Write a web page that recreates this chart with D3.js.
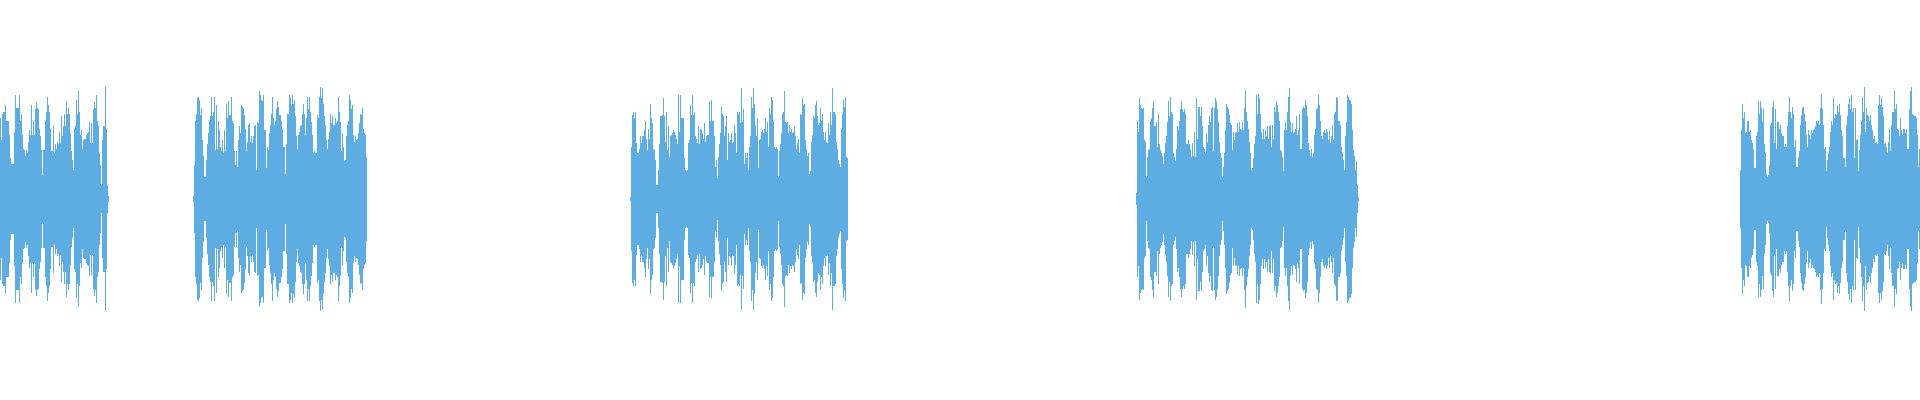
<!DOCTYPE html>
<html>
<head>
<meta charset="utf-8">
<script src="https://cdn.jsdelivr.net/npm/d3@7"></script>
<style>
  html, body { margin: 0; padding: 0; background: #fff; }
  #container { width: 1920px; height: 400px; }
</style>
</head>
<body>
<div id="container"></div>
<script>
// timeline (seconds) and peak resolution
var totalDuration = 48
var binSec = 0.025

// start time of each sound region
var segStarts = [0, 4.825, 15.75, 28.4, 43.5]

// peak amplitude (0..1) per bin, one list per region
var peaks1 = [.58,.42,.61,.62,.62,.67,.56,.56,.56,.46,.29,.25,.25,.25,.48,.74,.65,.65,.65,.74,.56,.61,.46,.36,.35,.31,.35,.33,.41,.49,
  .46,.67,.46,.56,.46,.64,.69,.65,.64,.50,.45,.35,.17,.35,.35,.56,.62,.73,.67,.62,.50,.34,.34,.53,.33,.39,.36,.41,.39,.48,
  .40,.59,.45,.52,.61,.52,.70,.61,.65,.61,.47,.34,.28,.21,.50,.52,.71,.61,.77,.62,.46,.49,.36,.42,.43,.43,.46,.47,.48,.55,
  .40,.54,.40,.64,.69,.65,.74,.56,.52,.33,.24,.10,.42,.52,.52,.80,.50,.10,.02]

var peaks2 = [.02,.24,.56,.61,.72,.73,.71,.60,.65,.42,.31,.16,.16,.28,.39,.47,.56,.59,.73,.59,.62,.73,.35,.67,.36,.56,.49,.37,.34,.42,
  .33,.49,.34,.68,.58,.70,.60,.60,.73,.56,.54,.34,.24,.34,.23,.42,.52,.47,.67,.66,.65,.60,.50,.34,.41,.53,.54,.41,.45,.40,
  .45,.52,.53,.21,.55,.54,.77,.74,.71,.70,.74,.49,.49,.22,.37,.35,.47,.53,.61,.73,.58,.53,.56,.64,.70,.66,.60,.60,.56,.50,
  .37,.37,.18,.39,.61,.61,.74,.72,.67,.74,.68,.71,.59,.45,.36,.46,.48,.52,.53,.61,.68,.61,.46,.58,.73,.64,.73,.62,.55,.46,
  .33,.34,.33,.33,.60,.58,.73,.80,.72,.79,.68,.59,.53,.42,.36,.43,.48,.61,.54,.59,.53,.53,.58,.54,.56,.73,.62,.55,.34,.47,
  .37,.27,.28,.45,.53,.56,.74,.71,.64,.67,.46,.41,.45,.42,.43,.47,.54,.61,.60,.65,.50,.47,.46,.30]

var peaks3 = [.01,.37,.60,.62,.58,.62,.40,.33,.33,.36,.45,.40,.45,.45,.49,.56,.43,.35,.50,.43,.68,.58,.54,.36,.35,.28,.10,.10,.21,.39,
  .59,.59,.60,.72,.59,.41,.62,.35,.52,.30,.45,.46,.47,.49,.48,.46,.43,.39,.74,.48,.74,.58,.58,.58,.29,.21,.20,.21,.40,.42,
  .67,.60,.74,.60,.62,.45,.43,.40,.52,.39,.50,.49,.47,.43,.54,.41,.45,.46,.46,.70,.56,.71,.56,.56,.45,.23,.28,.15,.30,.39,
  .47,.66,.61,.59,.45,.52,.59,.28,.47,.41,.42,.47,.40,.41,.53,.47,.33,.62,.61,.62,.54,.79,.55,.64,.25,.33,.29,.33,.21,.37,
  .45,.73,.65,.79,.68,.53,.45,.58,.22,.42,.43,.48,.49,.47,.50,.58,.48,.55,.37,.65,.61,.73,.71,.56,.37,.36,.37,.36,.16,.34,
  .39,.47,.61,.62,.77,.55,.54,.55,.47,.53,.48,.50,.47,.48,.52,.45,.36,.40,.43,.33,.61,.60,.72,.67,.68,.42,.36,.31,.33,.18,
  .20,.41,.46,.59,.58,.67,.70,.59,.53,.54,.65,.56,.61,.48,.42,.48,.41,.40,.54,.46,.62,.53,.79,.62,.62,.61,.41,.36,.28,.25,
  .23,.50,.61,.71,.66,.73,.30,.29]

var peaks4 = [.04,.56,.48,.72,.67,.65,.64,.65,.42,.41,.16,.30,.35,.36,.56,.58,.65,.70,.52,.52,.55,.37,.61,.39,.35,.33,.31,.25,.33,.40,
  .45,.55,.70,.59,.73,.62,.61,.33,.30,.27,.36,.52,.49,.56,.64,.70,.64,.62,.64,.61,.39,.39,.42,.39,.36,.30,.40,.31,.48,.30,
  .72,.43,.66,.66,.59,.66,.52,.37,.36,.33,.47,.41,.53,.59,.55,.65,.66,.34,.65,.72,.70,.64,.55,.41,.33,.29,.16,.23,.33,.49,
  .68,.66,.64,.60,.54,.53,.35,.48,.42,.47,.48,.54,.48,.55,.50,.49,.55,.49,.65,.78,.62,.56,.50,.41,.33,.21,.22,.29,.39,.45,
  .74,.61,.75,.72,.61,.48,.43,.50,.43,.49,.45,.52,.43,.52,.53,.37,.53,.43,.66,.62,.70,.67,.62,.56,.35,.34,.30,.20,.49,.55,
  .49,.62,.73,.79,.55,.48,.54,.47,.48,.50,.59,.46,.49,.61,.36,.36,.64,.66,.65,.71,.67,.59,.40,.35,.31,.36,.30,.33,.46,.50,
  .64,.65,.74,.67,.56,.45,.43,.48,.49,.47,.50,.48,.42,.49,.40,.45,.53,.42,.61,.62,.73,.72,.56,.56,.53,.37,.33,.28,.21,.45,
  .55,.74,.73,.71,.71,.68,.49,.35,.31,.21,.27,.10,.01]

var peaks5 = [.21,.49,.68,.58,.62,.47,.48,.56,.56,.48,.49,.42,.40,.36,.22,.22,.45,.48,.70,.61,.70,.65,.55,.64,.39,.33,.18,.16,.17,.24,
  .53,.54,.66,.70,.40,.64,.36,.55,.55,.50,.53,.47,.45,.45,.37,.39,.37,.52,.62,.73,.62,.58,.66,.61,.37,.42,.23,.23,.30,.34,
  .53,.60,.65,.66,.61,.56,.46,.37,.49,.46,.43,.49,.47,.49,.50,.52,.56,.54,.56,.53,.65,.75,.64,.53,.36,.37,.20,.28,.33,.37,
  .48,.56,.53,.72,.58,.61,.60,.67,.62,.68,.60,.49,.45,.29,.29,.23,.53,.59,.68,.72,.64,.74,.62,.65,.29,.65,.42,.43,.20,.35,
  .46,.56,.73,.62,.80,.48,.65,.60,.59,.56,.60,.53,.49,.43,.45,.40,.41,.39,.67,.74,.67,.72,.66,.59,.39,.40,.37,.33,.41,.50,
  .34,.53,.62,.62,.77,.64,.68,.50,.49,.45,.58,.49,.46,.50,.50,.47,.50,.36,.36,.64,.77,.80,.61,.60,.59,.59,.58,.46,.23,.36]

var allPeaks = [peaks1, peaks2, peaks3, peaks4, peaks5]

// set the dimensions of the graph
var width = 1920,
    height = 400;

var svg = d3.select("#container")
  .append("svg")
    .attr("width", width)
    .attr("height", height)

// time on X, amplitude on Y
var x = d3.scaleLinear()
  .domain([0, totalDuration])
  .range([0, width]);

var y = d3.scaleLinear()
  .domain([-1, 1])
  .range([339, 59]);

// flatten the regions into bins
var bins = []
allPeaks.forEach(function(list, s){
  list.forEach(function(a, i){
    bins.push({t: segStarts[s] + i * binSec, a: a})
  })
})

var binW = x(binSec) - x(0)

// one vertical bar per bin, mirrored round zero
svg.append("g")
    .attr("fill", "#5dade2")
    .attr("shape-rendering", "crispEdges")
  .selectAll("rect")
  .data(bins)
  .enter().append("rect")
    .attr("x", function(d) { return x(d.t); })
    .attr("width", binW)
    .attr("y", function(d) { return y(Math.max(d.a, 0.012)); })
    .attr("height", function(d) { return y(-Math.max(d.a, 0.012)) - y(Math.max(d.a, 0.012)); })
</script>
</body>
</html>
